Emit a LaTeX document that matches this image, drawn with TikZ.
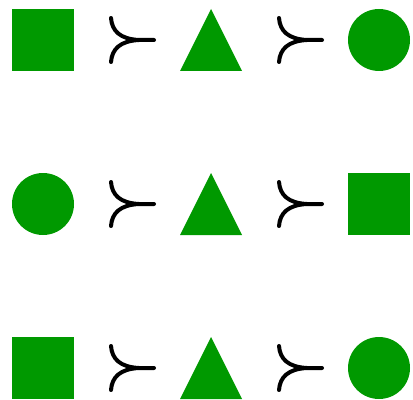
\documentclass[tikz,border=0pt]{standalone}
\usepackage{xcolor}
\definecolor{shapegreen}{RGB}{0,153,0}
\tikzset{
  sqshape/.pic={\fill[shapegreen] (-31,-31) rectangle (31,31);},
  trishape/.pic={\fill[shapegreen] (0,-31) -- (31,31) -- (-31,31) -- cycle;},
  circshape/.pic={\fill[shapegreen] (0,0) circle[radius=31];},
  succsym/.pic={\draw[line width=3pt,line cap=round]
      (-22,-22) .. controls (-21,-9) and (-13,-1) .. (6,0) -- (21,0)
      (-22,22) .. controls (-21,9) and (-13,1) .. (6,0);}
}
\begin{document}
\begin{tikzpicture}[x=0.75pt,y=-0.75pt]
  \useasboundingbox (0,0) rectangle (413,399);
  % one row per ordering
  \foreach \yy/\first/\last [count=\r] in {40/sqshape/circshape,204/circshape/sqshape,368/sqshape/circshape}{
    \pic (left\r) at (43,\yy) {\first};
    \pic (gta\r) at (133,\yy) {succsym};
    \pic (mid\r) at (211,\yy) {trishape};
    \pic (gtb\r) at (301,\yy) {succsym};
    \pic (right\r) at (379,\yy) {\last};
  }
\end{tikzpicture}
\end{document}
